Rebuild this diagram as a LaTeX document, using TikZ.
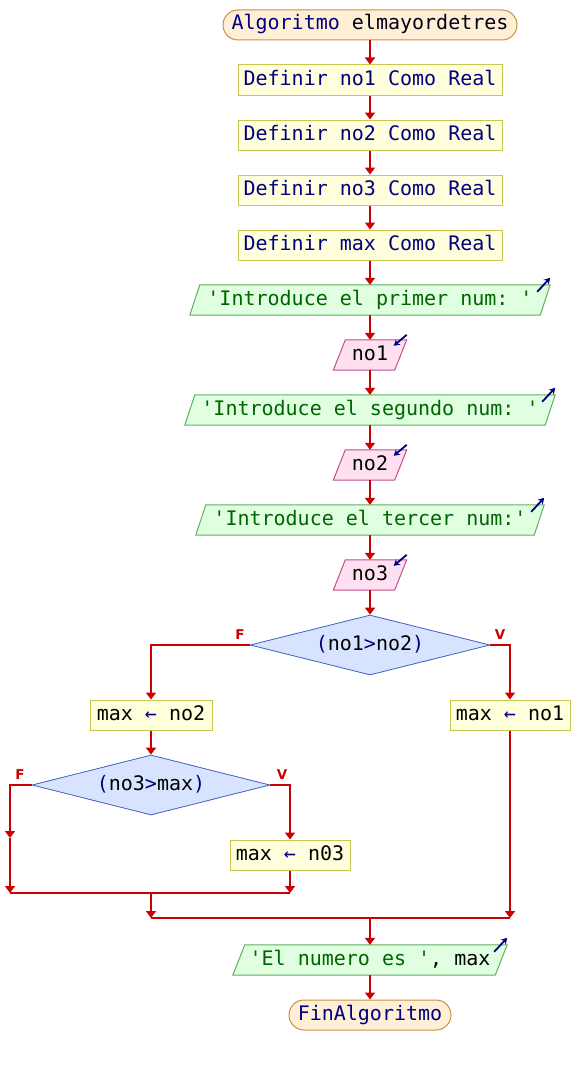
\documentclass[tikz,border=0pt]{standalone}
\usepackage{fontspec}
\setmonofont{DejaVu Sans Mono}
\newfontfamily\lblfont{DejaVu Sans}
\usetikzlibrary{shapes.geometric,arrows.meta,calc}
\pgfdeclarelayer{bg}
\pgfsetlayers{bg,main}
\definecolor{termfill}{HTML}{FFEFD5}
\definecolor{termdraw}{HTML}{C8904A}
\definecolor{procfill}{HTML}{FFFFDD}
\definecolor{procdraw}{HTML}{C8C850}
\definecolor{outfill}{HTML}{E0FFE0}
\definecolor{outdraw}{HTML}{60B060}
\definecolor{infill}{HTML}{FFE0F0}
\definecolor{indraw}{HTML}{C05090}
\definecolor{decfill}{HTML}{D8E4FF}
\definecolor{decdraw}{HTML}{4060C0}
\definecolor{arrred}{HTML}{CC0000}
\definecolor{navy}{HTML}{000080}
\definecolor{strgreen}{HTML}{006400}
\newcommand\ioshape[4]{%
  \begin{pgfonlayer}{bg}
  \draw[draw=#4, fill=#3, line width=1pt] ($(#1.north west)+(#2,0)$) -- (#1.north east) -- ($(#1.south east)-(#2,0)$) -- (#1.south west) -- cycle;
  \end{pgfonlayer}}
\tikzset{
  base/.style={font=\ttfamily\fontsize{20}{24}\selectfont, inner sep=0pt, minimum height=30pt, text height=14pt, text depth=4pt},
  term/.style={base, draw=termdraw, fill=termfill, rounded corners=15pt, line width=1pt},
  proc/.style={base, draw=procdraw, fill=procfill, line width=1pt},
  io/.style={base},
  dec/.style={base, diamond, aspect=4, draw=decdraw, fill=decfill, line width=0.8pt, minimum width=240pt, minimum height=60pt},
  arr/.style={draw=arrred, line width=2pt, -{Triangle[width=10pt,length=7pt]}},
  ln/.style={draw=arrred, line width=2pt},
  lbl/.style={text=arrred, font=\lblfont\bfseries\fontsize{13.5}{14}\selectfont, inner sep=0pt},
  ioarr/.style={draw=navy, line width=1.8pt, -{Stealth[length=6pt,width=7pt]}}
}
\begin{document}
\begin{tikzpicture}[x=1pt,y=-1pt]
\useasboundingbox (0,0) rectangle (580,1065);
\node[term, minimum width=294pt, text=navy] (start) at (370,25) {Algoritmo \textcolor{black!80!navy}{elmayordetres}};
\node[proc, minimum width=264pt, text=navy] (d1) at (370,80) {Definir no1 Como Real};
\node[proc, minimum width=264pt, text=navy] (d2) at (370,135) {Definir no2 Como Real};
\node[proc, minimum width=264pt, text=navy] (d3) at (370,190) {Definir no3 Como Real};
\node[proc, minimum width=264pt, text=navy] (d4) at (370,245) {Definir max Como Real};
\node[io, minimum width=360pt, text=strgreen] (o1) at (370,300) {'Introduce el primer num: '};
\ioshape{o1}{10}{outfill}{outdraw}
\node[io, minimum width=73pt] (i1) at (370,355) {no1};
\ioshape{i1}{12}{infill}{indraw}
\node[io, minimum width=370pt, text=strgreen] (o2) at (370,410) {'Introduce el segundo num: '};
\ioshape{o2}{10}{outfill}{outdraw}
\node[io, minimum width=73pt] (i2) at (370,465) {no2};
\ioshape{i2}{12}{infill}{indraw}
\node[io, minimum width=348pt, text=strgreen] (o3) at (370,520) {'Introduce el tercer num:'};
\ioshape{o3}{10}{outfill}{outdraw}
\node[io, minimum width=73pt] (i3) at (370,575) {no3};
\ioshape{i3}{12}{infill}{indraw}
\node[dec] (c1) at (370,645) {\textcolor{navy}{(}no1\textcolor{navy}{>}no2\textcolor{navy}{)}};
\node[proc, minimum width=120pt] (a1) at (510,715) {max \textcolor{navy}{←} no1};
\node[proc, minimum width=122pt] (a2) at (151,715) {max \textcolor{navy}{←} no2};
\node[dec, minimum width=238pt] (c2) at (151,785) {\textcolor{navy}{(}no3\textcolor{navy}{>}max\textcolor{navy}{)}};
\node[proc, minimum width=120pt] (a3) at (290,855) {max \textcolor{navy}{←} n03};
\node[io, minimum width=274pt] (o4) at (370,960) {\textcolor{strgreen}{'El numero es '}, max};
\ioshape{o4}{12}{outfill}{outdraw}
\node[term, minimum width=162pt, text=navy] (end) at (370,1015) {FinAlgoritmo};
\coordinate (e1) at (10,838);
\coordinate (j1) at (10,893);
\coordinate (j2) at (290,893);
\coordinate (j3) at (151,893);
\coordinate (j4) at (151,918);
\coordinate (j5) at (510,918);
\coordinate (j6) at (370,918);
\node[lbl] (f1) at (240,635) {F};
\node[lbl] (v1) at (500,635) {V};
\node[lbl] (f2) at (20,775) {F};
\node[lbl] (v2) at (282,775) {V};
\draw[arr] (start) -- (d1);
\draw[arr] (d1) -- (d2);
\draw[arr] (d2) -- (d3);
\draw[arr] (d3) -- (d4);
\draw[arr] (d4) -- (o1);
\draw[arr] (o1) -- (i1);
\draw[arr] (i1) -- (o2);
\draw[arr] (o2) -- (i2);
\draw[arr] (i2) -- (o3);
\draw[arr] (o3) -- (i3);
\draw[arr] (i3) -- (c1);
\draw[arr] (c1.west) -| (a2.north);
\draw[arr] (c1.east) -| (a1.north);
\draw[arr] (a2) -- (c2);
\draw[arr] (c2.west) -| (e1);
\draw[arr] (e1) -- (j1);
\draw[arr] (c2.east) -| (a3.north);
\draw[arr] (a3.south) -- (j2);
\draw[ln] (j1) -- (j2);
\draw[arr] (j3) -- (j4);
\draw[arr] (a1.south) -- (j5);
\draw[ln] (j4) -- (j5);
\draw[arr] (j6) -- (o4);
\draw[arr] (o4) -- (end);
\draw[ioarr] ($(o1.north east)+(-13,7)$) -- ++(13,-14);
\draw[ioarr] ($(o2.north east)+(-13,7)$) -- ++(13,-14);
\draw[ioarr] ($(o3.north east)+(-13,7)$) -- ++(13,-14);
\draw[ioarr] ($(o4.north east)+(-13,7)$) -- ++(13,-14);
\draw[ioarr] ($(i1.north east)+(0,-5)$) -- ++(-13,11);
\draw[ioarr] ($(i2.north east)+(0,-5)$) -- ++(-13,11);
\draw[ioarr] ($(i3.north east)+(0,-5)$) -- ++(-13,11);
\end{tikzpicture}
\end{document}
